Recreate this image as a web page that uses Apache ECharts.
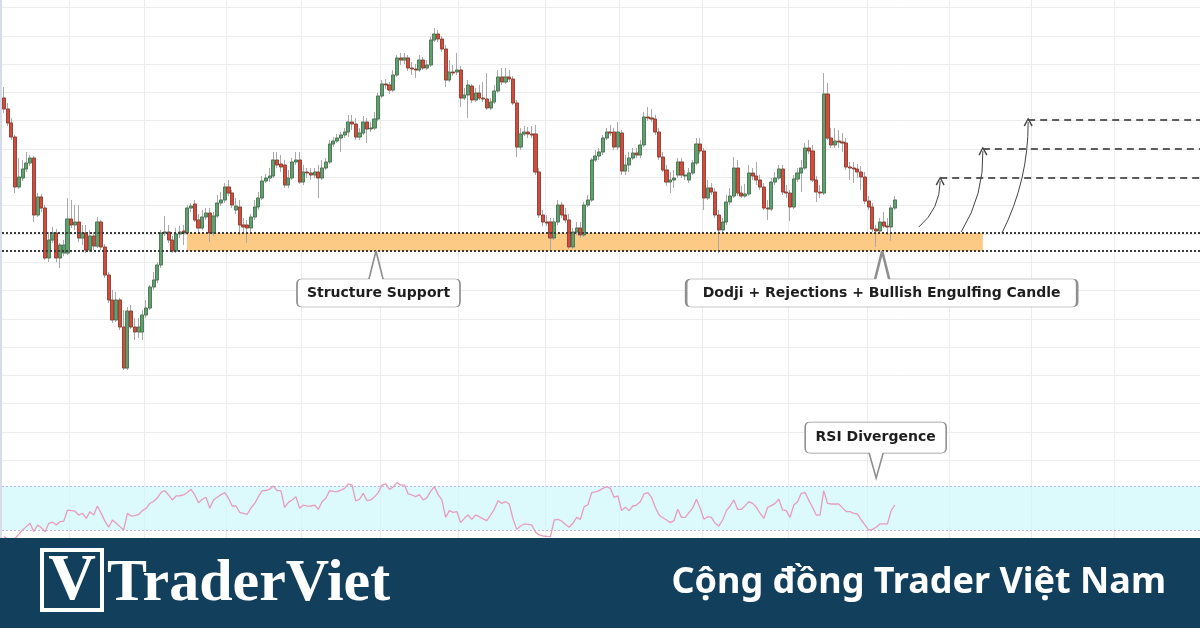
<!DOCTYPE html>
<html><head><meta charset="utf-8">
<script src="https://cdn.jsdelivr.net/npm/echarts@6/dist/echarts.min.js"></script>
<style>html,body{margin:0;padding:0;background:#fff}#c{width:1200px;height:628px}</style>
</head><body><div id="c"></div>
<script>
// ---- price data (arbitrary price points) ----
const open = [379,368,354,340,290,299,308,314,319,262,280,269,219,237,244,219,224,224,258,252,
255,239,244,227,241,231,255,230,202,177,157,177,150,109,166,150,145,145,162,169,
190,197,212,244,245,237,226,243,246,244,269,273,257,249,260,264,244,261,274,277,
290,284,267,270,252,252,249,260,270,279,296,299,301,317,313,312,292,299,315,317,
295,305,304,302,305,299,309,315,333,336,339,342,345,355,353,340,344,355,348,349,
358,381,393,392,387,402,419,417,419,409,408,407,417,409,412,437,443,438,428,397,
405,405,407,379,382,391,377,384,379,378,369,375,386,400,395,400,398,374,330,343,
345,343,343,305,262,255,255,239,255,272,262,257,230,245,249,242,272,277,317,321,
325,339,345,345,330,344,306,312,319,324,322,332,360,359,358,345,320,307,295,297,
302,315,301,297,304,314,333,326,279,289,285,262,247,255,275,281,309,284,281,283,
304,301,297,290,269,268,295,299,308,285,284,270,298,304,309,329,326,297,285,284,
383,339,332,336,335,334,310,309,308,305,300,276,270,248,246,255,251,250,269];
const close = [368,354,340,290,300,308,314,319,262,280,269,219,237,244,219,232,232,258,252,255,
239,244,227,241,231,255,230,202,177,157,177,150,109,166,150,145,150,162,169,190,
197,212,244,245,237,226,243,245,244,269,271,257,249,260,264,244,261,274,277,290,
284,272,271,252,250,249,260,270,279,296,299,301,317,312,310,292,299,315,317,295,
305,304,302,305,299,309,315,333,336,339,342,345,355,353,340,344,355,348,349,358,
381,393,392,387,402,419,417,419,409,408,407,417,409,412,437,443,438,428,397,405,
404,407,379,382,392,377,384,379,378,369,375,386,400,395,400,398,374,330,343,345,
343,342,305,262,255,254,239,255,272,262,257,230,245,249,242,272,277,317,321,325,
339,345,344,330,345,306,312,319,324,322,332,360,359,358,345,320,307,295,297,299,
315,302,302,304,314,333,326,279,289,285,262,247,255,275,281,309,284,281,283,304,
301,297,290,269,268,295,299,308,285,284,270,298,304,309,329,326,297,285,284,383,
339,332,336,335,334,310,309,308,305,300,276,270,248,246,255,251,250,269,277];
const high = [390,374,359,342,319,317,325,322,321,284,283,272,245,250,248,234,237,279,277,272,
272,252,252,247,245,260,257,233,205,187,185,179,167,170,172,159,159,167,177,192,
205,215,247,261,252,241,249,251,252,272,274,277,263,267,269,269,265,282,285,294,
297,287,279,277,259,257,263,277,285,301,303,309,325,325,322,317,307,319,325,325,
312,309,309,309,312,317,319,337,340,343,345,349,362,362,359,349,361,359,355,365,
384,397,398,395,407,422,424,424,422,415,413,422,420,417,440,449,447,441,432,417,
412,424,411,389,397,393,389,392,395,404,379,392,407,409,409,407,401,377,349,351,
350,351,352,309,267,262,259,259,277,275,269,263,249,255,255,275,282,319,327,329,
342,349,352,349,355,347,322,325,329,329,337,365,370,368,362,349,325,312,305,307,
319,319,307,309,317,339,339,329,297,294,289,267,259,282,289,320,317,291,293,312,
309,315,302,294,277,299,305,312,312,292,287,302,309,317,334,337,332,301,292,404,
394,349,349,347,344,339,315,315,313,311,305,281,274,252,259,265,259,272,281];
const low = [364,351,337,284,288,296,305,311,255,260,265,217,215,234,215,209,221,222,249,247,
235,232,224,225,227,229,227,199,174,154,155,147,107,107,148,137,139,137,159,167,
187,194,209,241,234,224,224,239,232,242,265,255,245,247,257,235,241,259,271,274,
281,269,263,242,245,234,245,257,267,277,294,295,299,309,305,289,289,297,312,293,
292,299,297,299,279,297,307,313,330,334,325,339,340,347,337,337,342,334,345,347,
356,379,388,383,385,400,412,413,406,402,399,405,407,407,410,435,435,425,390,395,
401,402,370,377,359,374,375,377,375,367,367,373,384,392,393,395,372,320,327,341,
339,339,302,259,251,251,225,237,252,259,254,228,228,242,239,240,270,275,315,317,
322,337,341,327,327,302,302,305,317,319,319,330,356,355,342,317,305,291,284,289,
299,299,297,294,302,312,323,267,277,282,259,224,245,252,272,279,281,279,279,281,
297,292,287,267,257,266,292,297,282,279,256,268,295,285,307,323,295,275,279,282,
337,329,329,329,325,307,297,294,299,287,273,267,245,230,243,249,242,236,267];
// ---- RSI ----
const rsi = [24,22,21,22.4,26,30,33,36,28.4,34.5,
32,28.4,36,37,34.5,37.5,38,48,47.5,47,
43.5,45.1,40.5,46.6,43.5,51.7,45,38,32.4,39,
36,33,30,45,42.6,43,44,47.5,49.6,54,
56,59,64,65.6,61.7,57.2,60.8,61,61.7,64,
66.8,61.7,54.7,57.8,59.6,49.6,57.2,59.6,62,63.8,
58.7,51.7,51.7,46,45,44.2,50,54,60.2,65.6,
65.6,67,69.8,65.6,65.6,50.5,55,57.2,60.2,49.6,
52.6,51.5,51.7,52.6,48.7,55.6,58.7,65.6,65,64.7,
66,67.7,71.7,70.7,56.2,57.8,63.2,56.5,57.2,60,
63.8,70.7,71.7,66.8,69,72.9,70.7,70.7,62.6,61.7,
60.2,62,57.2,59.3,65,69.3,62,57.2,41.4,47.5,
46,46.6,36.6,40.5,43.5,39.6,43.5,42,40,38.4,
43.5,48.7,56.5,54.1,55.6,53.5,40,30.5,33.6,35.4,
35,34.5,28,25.4,24.5,24.2,23.9,39,39.6,38.1,
35,32.4,36,41.4,39.6,51.1,52.6,63.8,64.5,65.6,
67.7,69.3,67.7,59.6,60.8,47.5,50.5,47.5,51.7,52.6,
55.6,62.6,63.8,59.6,50.5,43.5,41,39,36.6,38.4,
48.7,41.4,41.4,45.7,50,57.8,49.6,39.6,42,41.4,
36,33.6,39,47.5,51.7,57.2,48.7,48.7,52,55.6,
54.1,50.5,45.1,40.5,50.5,52,54.1,57.8,48.1,47.5,
41.4,52.6,55.6,63.2,63.8,57,50.5,43.5,43.5,65.6,
54.1,53.5,53.5,53.5,50,46.6,46.6,45,44.5,39,
34.5,29.9,30.5,32.4,35.4,35.4,35.4,47.5,52.6];
const rsiLevels = [30, 70];
// ---- axes / ticks ----
const barSlots = 320;                       // bars + empty future space
const timeGridAt = [18,38,60,80,101,122,145,165,187,210,231,253,275,297];
const priceGridLevels = [469.5,441.2,412.9,384.6,356.3,328,299.7,271.4,243.1,214.8,186.5,158.2,129.9,101.6,73.3,45,16.7];
// ---- annotations ----
const supportZone = [226, 244];             // price band
const zoneBars = [48.9, 261.5];             // bar span of shaded band
const targetLevels = [299, 328, 357];
const targetStart = [250.1, 261.5, 273.6];
const arrowFrom = [[244.4,250],[255.7,245],[266.6,244]];
const arrowTo = [[250.1,296],[261.5,326],[273.6,355]];
const arrowBend = [0.23, 0.15, 0.12];
const calloutText = ['Structure Support', 'Dodji + Rejections + Bullish Engulfing Candle', 'RSI Divergence'];
const calloutAt = [[99.4, 226], [234.6, 226], [233, 77]];

const cats = Array.from({length: barSlots}, (_, i) => String(i));
const gridSet = new Set(timeGridAt);
const wickData = open.map((o, i) => [o, close[i], low[i], high[i]]);
const bodyData = open.map((o, i) => [o, close[i], Math.min(o, close[i]), Math.max(o, close[i])]);

function calloutUp(W, tipX, base) {
  const a = tipX - base, b = tipX + base;
  return 'path://M5,28 L' + a + ',28 L' + tipX + ',0 L' + b + ',28 L' + (W-5) + ',28 Q' + W + ',28 ' + W + ',33 L' + W + ',51 Q' + W + ',56 ' + (W-5) + ',56 L5,56 Q0,56 0,51 L0,33 Q0,28 5,28 Z';
}
function calloutDown(W, tipX, base) {
  const a = tipX - base, b = tipX + base;
  return 'path://M5,0 L' + (W-5) + ',0 Q' + W + ',0 ' + W + ',5 L' + W + ',26 Q' + W + ',31 ' + (W-5) + ',31 L' + b + ',31 L' + tipX + ',56 L' + a + ',31 L5,31 Q0,31 0,26 L0,5 Q0,0 5,0 Z';
}
const labelFont = {color: '#1e1e1e', fontFamily: 'DejaVu Sans', fontWeight: 'bold', fontSize: 14};
const calloutStyle = {color: '#fff', borderColor: '#8f8f8f', borderWidth: 1, opacity: 1};
const chevron = 'path://M5,0 L10,9 L8.6,10 L5,2.8 L1.4,10 L0,9 Z';

const chart = echarts.init(document.getElementById('c'), null, {renderer: 'canvas'});
const option = {
  animation: false,
  backgroundColor: '#ffffff',
  grid: [
    {left: 2, right: 0, top: 0, height: 477},
    {left: 2, right: 0, top: 477, height: 86}
  ],
  xAxis: [
    {type: 'category', gridIndex: 0, data: cats, boundaryGap: true,
     axisLine: {show: false}, axisTick: {show: false}, axisLabel: {show: false},
     splitLine: {show: true, interval: (i) => gridSet.has(i), lineStyle: {color: '#ececec', width: 1}}},
    {type: 'value', gridIndex: 0, min: -0.5, max: barSlots - 0.5, show: false},
    {type: 'category', gridIndex: 1, data: cats, boundaryGap: true, position: 'top',
     axisLine: {show: true, lineStyle: {color: '#b9b9b9', width: 2}}, axisTick: {show: false}, axisLabel: {show: false},
     splitLine: {show: true, interval: (i) => gridSet.has(i), lineStyle: {color: '#ececec', width: 1}}}
  ],
  yAxis: [
    {type: 'value', gridIndex: 0, min: 0, max: 477, show: false},
    {type: 'value', gridIndex: 1, min: 0, max: 78, show: false}
  ],
  series: [
    {type: 'line', xAxisIndex: 1, yAxisIndex: 0, data: [], silent: true,
     markLine: {z: 0, silent: true, symbol: ['none', 'none'], label: {show: false},
       lineStyle: {color: '#ececec', width: 1, type: 'solid'},
       data: priceGridLevels.map(v => ({yAxis: v}))},
     markArea: {z: 1, silent: true, itemStyle: {color: '#fcca84'},
       data: [[{coord: [zoneBars[0], supportZone[1]]}, {coord: [zoneBars[1], supportZone[0]]}]]}},
    {type: 'candlestick', name: 'wick', xAxisIndex: 0, yAxisIndex: 0, data: wickData, barWidth: 3.6, z: 2, silent: true,
     itemStyle: {color: '#a9a9a9', color0: '#a9a9a9', borderColor: '#a9a9a9', borderColor0: '#a9a9a9', borderWidth: 1}},
    {type: 'candlestick', name: 'body', xAxisIndex: 0, yAxisIndex: 0, data: bodyData, barWidth: 3.6, z: 3, silent: true,
     itemStyle: {color: '#5fa06e', color0: '#d54a3c', borderColor: '#3a6a45', borderColor0: '#83301f', borderWidth: 0.7}},
    {type: 'line', xAxisIndex: 1, yAxisIndex: 0, data: [], silent: true,
     markLine: {z: 4, silent: true, symbol: ['none', 'none'], label: {show: false},
       lineStyle: {color: '#3a3a3a', width: 2, type: [2, 2]},
       data: supportZone.map(v => ({yAxis: v}))}},
    {type: 'lines', coordinateSystem: 'cartesian2d', xAxisIndex: 1, yAxisIndex: 0, z: 4, silent: true,
     symbol: ['none', 'none'],
     lineStyle: {color: '#2a2a2a', width: 1.5, type: [7, 5], opacity: 1},
     data: targetLevels.map((v, i) => ({coords: [[targetStart[i], v], [barSlots - 0.5, v]]}))},
    {type: 'lines', coordinateSystem: 'cartesian2d', xAxisIndex: 1, yAxisIndex: 0, z: 4, silent: true,
     symbol: [chevron, 'none'], symbolSize: 9,
     lineStyle: {color: '#444', width: 1, opacity: 1},
     data: arrowTo.map((t, i) => ({coords: [t, arrowFrom[i]], lineStyle: {curveness: arrowBend[i]}}))},
    {type: 'scatter', xAxisIndex: 1, yAxisIndex: 0, z: 6, silent: true, clip: false,
     itemStyle: calloutStyle,
     data: [
       {value: calloutAt[0], symbol: calloutUp(163, 79, 7), symbolSize: [163, 56], symbolOffset: [2.5, 28],
        label: Object.assign({show: true, position: 'inside', offset: [0, 14], formatter: calloutText[0]}, labelFont)},
       {value: calloutAt[1], symbol: calloutUp(391, 196, 7), symbolSize: [391, 56], symbolOffset: [-0.5, 28],
        label: Object.assign({show: true, position: 'inside', offset: [0, 14], formatter: calloutText[1]}, labelFont)}
     ]},
    {type: 'line', xAxisIndex: 2, yAxisIndex: 1, data: rsi, symbol: 'none', silent: true, z: 3,
     lineStyle: {color: '#e89cbb', width: 1.3},
     markArea: {z: 1, silent: true, itemStyle: {color: 'rgba(205,247,251,0.7)'},
       data: [[{yAxis: rsiLevels[0]}, {yAxis: rsiLevels[1]}]]},
     markLine: {z: 2, silent: true, symbol: ['none', 'none'], label: {show: false},
       lineStyle: {color: '#c4b2e4', width: 1, type: [2, 2]},
       data: rsiLevels.map(v => ({yAxis: v}))}},
    {type: 'scatter', xAxisIndex: 2, yAxisIndex: 1, z: 6, silent: true, clip: false,
     itemStyle: calloutStyle,
     data: [
       {value: calloutAt[2], symbol: calloutDown(141, 71, 7), symbolSize: [141, 56], symbolOffset: [-0.5, -28],
        label: Object.assign({show: true, position: 'inside', offset: [0, -12.5], formatter: calloutText[2]}, labelFont)}
     ]}
  ],
  graphic: {elements: [
    {type: 'rect', z: 100, shape: {x: 0, y: 0, width: 2, height: 538}, style: {fill: '#d6dcea'}},
    {type: 'rect', z: 100, shape: {x: 0, y: 538, width: 1200, height: 90}, style: {fill: '#123f5c'}},
    {type: 'rect', z: 101, shape: {x: 42, y: 550, width: 60, height: 60}, style: {fill: 'none', stroke: '#ffffff', lineWidth: 4}},
    {type: 'text', z: 101, style: {text: 'V', x: 72, y: 582, fill: '#ffffff', font: 'bold 66px "Liberation Serif"', align: 'center', verticalAlign: 'middle'}},
    {type: 'text', z: 101, style: {text: 'TraderViet', x: 107, y: 584, fill: '#ffffff', font: 'bold 60px "Liberation Serif"', align: 'left', verticalAlign: 'middle'}},
    {type: 'text', z: 101, style: {text: 'Cộng đồng Trader Việt Nam', x: 1166, y: 583, fill: '#ffffff', font: 'bold 36px "Noto Sans"', align: 'right', verticalAlign: 'middle'}}
  ]}
};
chart.setOption(option);
</script>
</body></html>
